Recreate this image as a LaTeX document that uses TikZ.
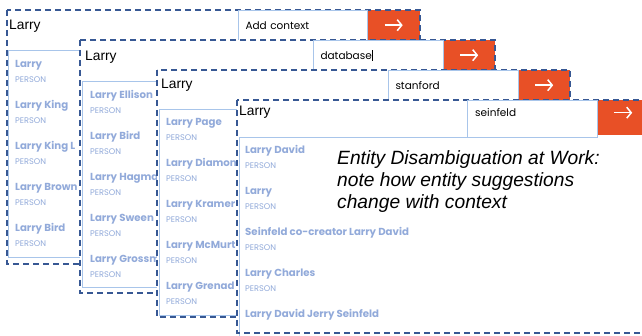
\documentclass[tikz,border=0pt]{standalone}
\usepackage{fontspec}
\setmainfont{Liberation Sans}
\newfontfamily\popfont{Poppins}
\usetikzlibrary{arrows.meta}
\definecolor{dashblue}{RGB}{55,88,148}
\definecolor{lightline}{RGB}{168,197,234}
\definecolor{itemblue}{RGB}{146,170,218}
\definecolor{btnorange}{RGB}{232,80,38}
\tikzset{
 panelbox/.style={draw=dashblue, line width=1.9pt, dash pattern=on 6pt off 4pt},
 listline/.style={draw=lightline, line width=0.8pt},
 inbox/.style={draw=lightline, line width=1pt, fill=white, anchor=north west, inner xsep=7pt, inner ysep=0pt, align=left, font=\popfont\fontsize{10.5}{12}\selectfont, text=black},
 intext/.style={anchor=west, inner sep=0pt, font=\popfont\fontsize{10.5}{12}\selectfont, text=black},
 btn/.style={fill=btnorange, anchor=north west, inner sep=0pt},
 goarrow/.style={draw=white, line width=1.5pt, -{Straight Barb[length=4.5pt, width=11pt, line width=1.5pt]}},
 hdr/.style={anchor=west, inner sep=0pt, font=\fontsize{13.8}{16}\selectfont},
 itemname/.style={anchor=west, inner sep=0pt, text=itemblue, font=\popfont\bfseries\fontsize{10.2}{12}\selectfont},
 itemtype/.style={anchor=west, inner sep=0pt, text=itemblue, font=\popfont\fontsize{8.2}{9}\selectfont},
}
\begin{document}
\begin{tikzpicture}[x=1pt,y=-1pt]
\useasboundingbox (0,0) rectangle (642,336);
\clip (0,0) rectangle (642,336);
\fill[white] (0,0) rectangle (642,336);
% ---------- panel 1
\fill[white] (7,10) rectangle (420,264);
\draw[listline] (238,50) -- (8,50) -- (8,257) -- (238,257);
\node[btn, minimum width=53pt, minimum height=30pt] (b1) at (367,10) {};
\draw[panelbox] (7,10) rectangle (420,264);
\node[inbox, minimum width=129pt, minimum height=30pt, text width=115pt] (i1) at (238,10) {Add context};
\draw[goarrow] ([xshift=-9pt]b1.center) -- ([xshift=9pt]b1.center);
\node[hdr] (h1) at (9,26) {Larry};
\foreach \n [count=\k from 0] in {Larry, Larry King, Larry King L, Larry Brown, Larry Bird} {
 \node[itemname] (n1-\k) at (15,{65+41*\k}) {\n};
 \node[itemtype] (t1-\k) at (15,{79.5+41*\k}) {PERSON};
}
% ---------- panel 2
\fill[white] (80,40) rectangle (495,293);
\draw[listline] (313,81) -- (82,81) -- (82,287) -- (313,287);
\node[btn, minimum width=52pt, minimum height=30pt] (b2) at (443,40) {};
\draw[panelbox] (80,40) rectangle (495,293);
\node[inbox, minimum width=130pt, minimum height=30pt, text width=116pt] (i2) at (313,40) {database\rule[-1.5pt]{0.7pt}{10.5pt}};
\draw[goarrow] ([xshift=-9pt]b2.center) -- ([xshift=9pt]b2.center);
\node[hdr] (h2) at (85,57) {Larry};
\foreach \n [count=\k from 0] in {Larry Ellison, Larry Bird, Larry Hagma, Larry Sween, Larry Grossm} {
 \node[itemname] (n2-\k) at (90,{96+41*\k}) {\n};
 \node[itemtype] (t2-\k) at (90,{110.5+41*\k}) {PERSON};
}
% ---------- panel 3
\fill[white] (157,70) rectangle (570,317);
\draw[listline] (388,109) -- (159,109) -- (159,315) -- (388,315);
\node[btn, minimum width=52pt, minimum height=30pt] (b3) at (518,70) {};
\draw[panelbox] (157,70) rectangle (570,317);
\node[inbox, minimum width=130pt, minimum height=30pt, text width=116pt] (i3) at (388,70) {stanford};
\draw[goarrow] ([xshift=-9pt]b3.center) -- ([xshift=9pt]b3.center);
\node[hdr] (h3) at (161,85) {Larry};
\foreach \n [count=\k from 0] in {Larry Page, Larry Diamon, Larry Kramer, Larry McMurt, Larry Grenad} {
 \node[itemname] (n3-\k) at (166,{123+41*\k}) {\n};
 \node[itemtype] (t3-\k) at (166,{137.5+41*\k}) {PERSON};
}
% ---------- panel 4
\fill[white] (237,100) rectangle (680,333);
\draw[listline] (467,137) -- (239,137) -- (239,345);
\node[btn, minimum width=52pt, minimum height=35pt] (b4) at (597,100) {};
\draw[panelbox] (237,100) rectangle (680,333);
\node[inbox, minimum width=130pt, minimum height=37pt] (i4) at (467,100) {};
\node[intext] (s4) at ([xshift=8pt,yshift=6pt]i4.west) {seinfeld};
\draw[goarrow] ([xshift=-9pt,yshift=5pt]b4.center) -- ([xshift=9pt,yshift=5pt]b4.center);
\node[hdr] (h4) at (239,112) {Larry};
\foreach \n/\t [count=\k from 0] in {Larry David/PERSON, Larry/PERSON, Seinfeld co-creator Larry David/PERSON, Larry Charles/PERSON, Larry David Jerry Seinfeld/{}} {
 \node[itemname] (n4-\k) at (245,{151+41*\k}) {\n};
 \node[itemtype] (t4-\k) at (245,{166+41*\k}) {\t};
}
% ---------- caption
\node[anchor=north west, inner sep=0pt, align=left, font=\itshape\fontsize{19.2}{22}\selectfont] (cap) at (337,150)
 {Entity Disambiguation at Work:\\note how entity suggestions\\change with context};
\end{tikzpicture}
\end{document}
